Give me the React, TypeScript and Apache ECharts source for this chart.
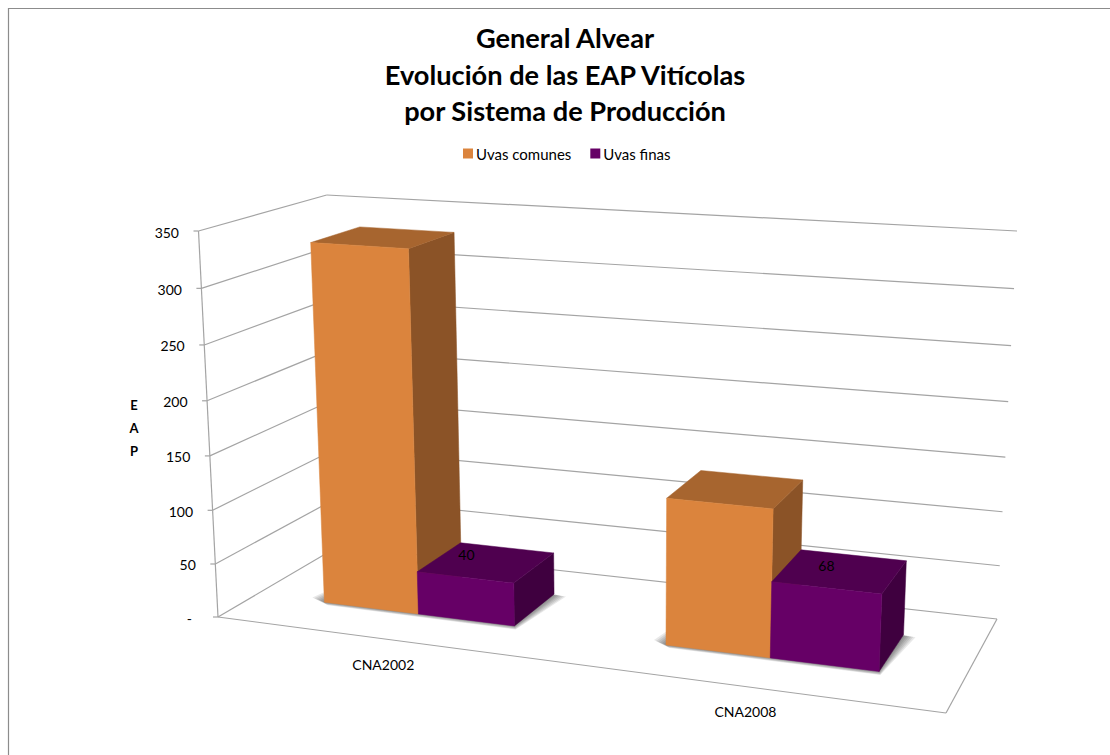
import React, { useEffect, useRef } from "react";
import * as echarts from "echarts";

const titleLines = ["General Alvear", "Evolución de las EAP Vitícolas", "por Sistema de Producción"];
const categories = ["CNA2002", "CNA2008"];
const seriesNames = ["Uvas comunes", "Uvas finas"];
const uvasComunes = [333, 132];
const uvasFinas = [40, 68];
const yTicks = [0, 50, 100, 150, 200, 250, 300, 350];
const yTickLabels = ["-", "50", "100", "150", "200", "250", "300", "350"];
const axisTitle = "E\nA\nP";

const FONT = "Lato, Carlito, Calibri, sans-serif";
const GRID = { left: 218, top: 231, width: 728, height: 386 };
type P = [number, number];
// Corners of the 3D box on screen: front-left, front-right, back-right, back-left
const FLOOR: P[] = [[218, 617], [946, 713], [997, 619], [339, 546]];
const CEIL: P[] = [[198.5, 231], [966, 279.5], [1017, 231], [326.7, 195]];
const HEIGHT_PERSPECTIVE = 0.955;
const LABEL_NUDGE: P[] = [[-14, 1], [-3, 4]];
// Apparent width of the bars on the floor, per category (common, fine)
const WIDTH_COMMON = [0.148, 0.14];
const WIDTH_FINE = [0.1445, 0.1395];

function makeHomography(q: P[]) {
  const [p00, p10, p11, p01] = q;
  const dx1 = p10[0] - p11[0], dy1 = p10[1] - p11[1];
  const dx2 = p01[0] - p11[0], dy2 = p01[1] - p11[1];
  const sx = p00[0] - p10[0] + p11[0] - p01[0], sy = p00[1] - p10[1] + p11[1] - p01[1];
  const den = dx1 * dy2 - dx2 * dy1;
  const g = (sx * dy2 - dx2 * sy) / den;
  const h = (dx1 * sy - sx * dy1) / den;
  const a = p10[0] - p00[0] + g * p10[0], b = p01[0] - p00[0] + h * p01[0], c = p00[0];
  const d = p10[1] - p00[1] + g * p10[1], e = p01[1] - p00[1] + h * p01[1], f = p00[1];
  return (u: number, v: number): P => {
    const w = g * u + h * v + 1;
    return [(a * u + b * v + c) / w, (d * u + e * v + f) / w];
  };
}
const floorAt = makeHomography(FLOOR);
const ceilAt = makeHomography(CEIL);
const project = (u: number, v: number, t: number): P => {
  const a = floorAt(u, v), b = ceilAt(u, v);
  return [a[0] + (b[0] - a[0]) * t, a[1] + (b[1] - a[1]) * t];
};

const V0 = 0.302, V1 = 0.706;
const CENTER_SHIFT = 0.0075;
const GRID_COLOR = "#a4a4a4";
const SHADOW_STEPS = [12, 10, 8, 6, 4, 2];

const heightOf = (api: any, value: number) => {
  const t = (GRID.top + GRID.height - api.coord([0, value])[1]) / GRID.height;
  return (t * HEIGHT_PERSPECTIVE) / (1 - t + t * HEIGHT_PERSPECTIVE);
};
const centerOf = (api: any, cat: number) => (api.coord([cat, 0])[0] - GRID.left) / GRID.width + CENTER_SHIFT;

const line = (a: P, b: P, w = 1.2, color = GRID_COLOR) => ({
  type: "line", silent: true,
  shape: { x1: a[0], y1: a[1], x2: b[0], y2: b[1] },
  style: { stroke: color, lineWidth: w, fill: "none" },
});
const poly = (pts: P[], fill: string) => ({
  type: "polygon", silent: true, shape: { points: pts },
  style: { fill, stroke: fill, lineWidth: 0.5 },
});
const text = (s: string, x: number, y: number, align: string, size = 14, weight = "normal") => ({
  type: "text", silent: true,
  style: { text: s, x, y, align, verticalAlign: "middle", fill: "#000", fontFamily: FONT, fontSize: size, fontWeight: weight },
});

function box(u0: number, u1: number, t: number, front: string, top: string, side: string) {
  const fbl = project(u0, V0, 0), fbr = project(u1, V0, 0), bbr = project(u1, V1, 0);
  const ftl = project(u0, V0, t), ftr = project(u1, V0, t), btl = project(u0, V1, t), btr = project(u1, V1, t);
  return [poly([ftr, btr, bbr, fbr], side), poly([ftl, btl, btr, ftr], top), poly([fbl, fbr, ftr, ftl], front)];
}

const renderWalls = (_: any, api: any) => {
  const value = api.value(1);
  const index = yTicks.indexOf(value);
  const t = heightOf(api, value);
  const front = project(0, 0, t), back = project(0, 1, t), right = project(1, 1, t);
  const children: any[] = [
    line(front, back), line(back, right),
    line(front, [front[0] - 5, front[1]]),
    text(yTickLabels[index], front[0] - (index === 0 ? 26 : 19.5), front[1] + 1, "right"),
  ];
  if (index === 0) {
    children.push(line(project(0, 0, 0), project(0, 0, 1)));
    children.push(line(project(0, 0, 0), project(1, 0, 0)));
    children.push(line(project(1, 0, 0), project(1, 1, 0)));
  }
  return { type: "group", children };
};

const renderShadow = (_: any, api: any) => {
  const cat = api.value(0);
  const c = centerOf(api, cat);
  const u0 = c - WIDTH_COMMON[cat], u1 = c + WIDTH_FINE[cat];
  const fl = project(u0, V0, 0), fr = project(u1, V0, 0), br = project(u1, V1, 0), bl = project(u0, V1, 0);
  return {
    type: "group",
    children: SHADOW_STEPS.map((d) => ({
      type: "polygon", silent: true,
      shape: {
        points: [
          [fl[0] - d, fl[1] - d * 0.4],
          [fl[0] + d * 0.3, fl[1] + d * 0.25],
          [fr[0] + d * 0.1, fr[1] + d * 0.3],
          [br[0] + d, br[1] + d * 0.2],
          [bl[0] - d * 0.3, bl[1]],
        ],
      },
      style: { fill: "rgba(0,0,0,0.09)" },
    })),
  };
};

const renderCommon = (_: any, api: any) => {
  const cat = api.value(0);
  const c = centerOf(api, cat);
  const t = heightOf(api, api.value(1));
  const edge = floorAt(c - CENTER_SHIFT, 0);
  return {
    type: "group",
    children: [
      ...box(c - WIDTH_COMMON[cat], c, t, "#DB843D", "#A7652F", "#8B5327"),
      text(categories[cat], edge[0] + 5, edge[1] + 26, "center"),
    ],
  };
};

const renderFine = (_: any, api: any) => {
  const cat = api.value(0);
  const c = centerOf(api, cat);
  const value = api.value(1);
  const t = heightOf(api, value);
  const at = project(c + 0.047, V1 - 0.1, t);
  return {
    type: "group",
    children: [
      ...box(c, c + WIDTH_FINE[cat], t, "#660066", "#4F004F", "#3F003F"),
      text(String(value), at[0] + LABEL_NUDGE[cat][0], at[1] + LABEL_NUDGE[cat][1], "center"),
    ],
  };
};

const App = () => {
  const ref = useRef<HTMLDivElement>(null);
  useEffect(() => {
    const chart = echarts.init(ref.current!, null, { renderer: "svg" });
    chart.setOption({
      animation: false,
      backgroundColor: "#fff",
      textStyle: { fontFamily: FONT },
      title: {
        text: titleLines.join("\n"), left: 560, top: 14.5, textAlign: "center",
        textStyle: { fontFamily: FONT, fontWeight: "bold", fontSize: 27.2, lineHeight: 36.5, color: "#000" },
      },
      legend: {
        data: seriesNames, left: 458, top: 141, icon: "rect", itemWidth: 10, itemHeight: 10, itemGap: 19,
        selectedMode: false,
        textStyle: { fontFamily: FONT, fontSize: 15, color: "#000", padding: [0, 0, 0, -2] },
      },
      grid: { left: GRID.left, top: GRID.top, width: GRID.width, height: GRID.height },
      xAxis: { type: "category", data: categories, show: false },
      yAxis: { type: "value", min: 0, max: 350, interval: 50, show: false },
      graphic: [
        { type: "line", silent: true, shape: { x1: 8, y1: 8.5, x2: 1110, y2: 8.5 }, style: { stroke: "#8c8c8c", lineWidth: 1.2 } },
        { type: "line", silent: true, shape: { x1: 8.5, y1: 8, x2: 8.5, y2: 755 }, style: { stroke: "#8c8c8c", lineWidth: 1.2 } },
        {
          type: "text", silent: true, x: 134, y: 393,
          style: { text: axisTitle, align: "center", fill: "#000", fontFamily: FONT, fontWeight: "bold", fontSize: 13, lineHeight: 23 },
        },
      ],
      series: [
        { type: "custom", name: "walls", silent: true, renderItem: renderWalls, encode: { x: 0, y: 1 }, data: yTicks.map((v) => [0, v]), z: 1 },
        { type: "custom", name: "shadow", silent: true, renderItem: renderShadow, encode: { x: 0, y: 1 }, data: categories.map((_, i) => [i, 0]), z: 2 },
        { type: "custom", name: seriesNames[0], silent: true, renderItem: renderCommon, encode: { x: 0, y: 1 }, itemStyle: { color: "#DB843D" }, data: uvasComunes.map((v, i) => [i, v]), z: 3 },
        { type: "custom", name: seriesNames[1], silent: true, renderItem: renderFine, encode: { x: 0, y: 1 }, itemStyle: { color: "#660066" }, data: uvasFinas.map((v, i) => [i, v]), z: 4 },
      ],
    });
    return () => chart.dispose();
  }, []);
  return <div ref={ref} style={{ position: "absolute", left: 0, top: 0, width: 1110, height: 755 }} />;
};

export default App;
